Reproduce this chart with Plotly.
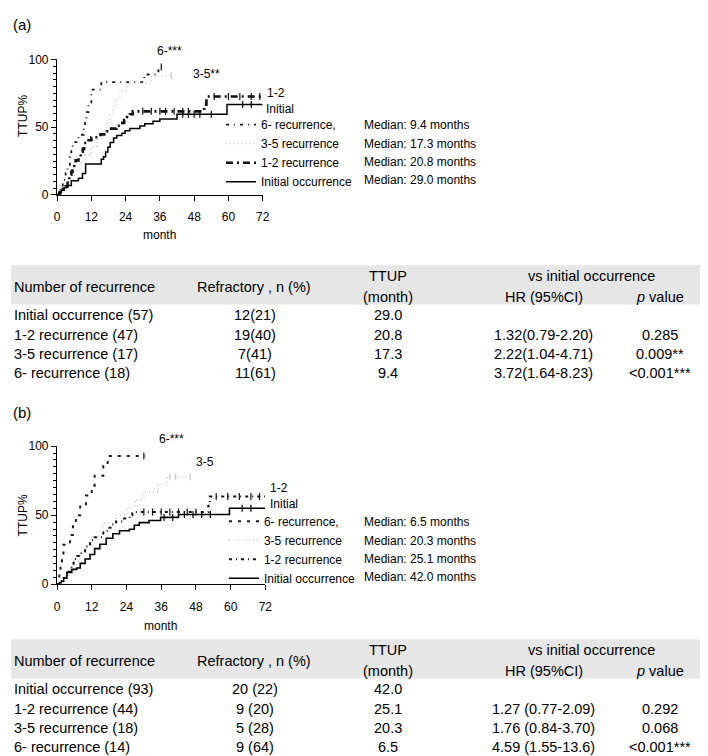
import numpy as np
import plotly.graph_objects as go

W, H = 708, 756

# -- datos de las curvas (a) ------------------------------------------------------------------------------------
a_init_t = [0, 0.6, 1.5, 2.5, 3.5, 5.0, 7.5, 8.9, 10.0, 15.5, 16.3, 17.0, 17.8, 18.6, 19.8, 20.9, 22.7, 23.8,
            25.5, 27.8, 29.0, 30.7, 33.6, 36.0, 42.0, 59.5, 72]
a_init_y = [0, 1.8, 3.5, 5.3, 7.0, 10.5, 12.3, 15.8, 22.8, 26.3, 28.1, 31.6, 35.1, 38.6, 42.1, 43.9, 45.6, 47.4,
            49.1, 49.1, 50.9, 52.6, 54.4, 56.1, 59.6, 66.7, 66.7]
a_12_t = [0, 1.0, 2.0, 3.0, 3.7, 4.3, 5.0, 5.4, 6.0, 6.5, 7.5, 8.3, 9.0, 9.5, 10.6, 12.0, 15.2, 16.5, 17.5, 20.8,
          22.0, 23.5, 24.5, 25.5, 26.5, 51.5, 52.3, 72]
a_12_y = [0, 2.1, 4.3, 6.4, 10.6, 14.9, 17.0, 21.3, 23.4, 25.5, 27.7, 31.9, 34.0, 38.3, 40.4, 42.6, 44.7, 46.8,
          48.9, 51.1, 53.2, 55.3, 57.4, 59.6, 61.7, 66.6, 72.6, 72.6]
a_35_t = [0, 2, 4, 6, 8, 10, 12, 14, 16, 17.3, 18.5, 19.5, 20.5, 22, 24, 33, 40]
a_35_y = [0, 5.9, 11.8, 17.6, 23.5, 29.4, 35.3, 41.2, 47.1, 52.9, 58.8, 64.7, 70.6, 76.5, 82.4, 88.2, 88.2]
a_6_t = [0, 1.2, 2.0, 3.0, 3.7, 4.5, 5.0, 5.5, 7.5, 9.4, 9.8, 10.3, 11.0, 12.0, 15.5, 30.5, 35.5, 37.0]
a_6_y = [0, 5.6, 11.1, 16.7, 22.2, 27.8, 33.3, 38.9, 44.4, 50.0, 55.6, 61.1, 66.7, 77.8, 83.3, 88.9, 94.4, 94.4]

a_cens_init = [44, 46, 48, 50, 54, 65, 68]
a_cens_12 = [30, 33, 36, 38, 41, 44, 46, 55, 60, 64, 68, 71]
a_cens_6 = [36.5]
a_cens_35 = [40]

# -- datos de las curvas (b) ------------------------------------------------------------------------------------
b_init_t = [0, 0.8, 1.5, 2.3, 3.4, 5.1, 6.8, 8.0, 9.7, 11.4, 13.0, 14.8, 17.0, 19.3, 21.6, 25.0, 26.7, 28.4,
            31.8, 35.8, 42.0, 59.6, 72]
b_init_y = [0, 1.1, 2.2, 4.3, 8.6, 10.8, 11.8, 15.1, 18.3, 21.5, 25.8, 29.0, 33.3, 36.6, 38.7, 39.8, 42.7, 44.6,
            46.2, 48.4, 50.5, 55.0, 55.0]
b_12_t = [0, 1.0, 2.0, 3.0, 4.0, 5.0, 5.7, 7.0, 8.0, 9.7, 11.4, 13.0, 16.0, 17.6, 19.0, 20.4, 22.7, 25.1, 26.0,
          52.3, 52.8, 72]
b_12_y = [0, 2.3, 4.5, 6.8, 9.1, 13.6, 18.2, 20.5, 22.7, 27.3, 31.8, 34.1, 38.6, 40.9, 43.2, 45.5, 47.7, 50.0,
          52.3, 56.8, 63.6, 63.6]
b_35_t = [0, 2, 4, 6, 8, 10, 12, 14, 16, 20.3, 24, 27, 30, 35, 38, 46]
b_35_y = [0, 5.6, 11.1, 16.7, 22.2, 27.8, 33.3, 38.9, 44.4, 50.0, 55.6, 61.1, 66.7, 72.2, 77.8, 77.8]
b_6_t = [0, 0.8, 1.2, 1.7, 2.2, 4.5, 5.5, 6.5, 8.0, 10.0, 12.0, 13.0, 16.0, 17.5, 30.5]
b_6_y = [0, 7.1, 14.3, 21.4, 28.6, 35.7, 42.9, 50.0, 57.1, 64.3, 71.4, 78.6, 85.7, 92.9, 92.9]

b_cens_init = [37, 40, 44, 47, 50, 53, 64, 67]
b_cens_12 = [30, 33, 36, 39, 42, 45, 48, 55, 59, 63, 67, 70]
b_cens_35 = [39, 41, 46]
b_cens_6 = [30]

# -- tablas ------------------------------------------------------------------------------------------------------
tab_header = ['Number of recurrence', 'Refractory , n (%)', 'TTUP', '(month)', 'vs initial occurrence',
              'HR (95%CI)', '<i>p</i> value']
a_groups = ['Initial occurrence (57)', '1-2 recurrence (47)', '3-5 recurrence (17)', '6- recurrence (18)']
a_refr = ['12(21)', '19(40)', '7(41)', '11(61)']
a_ttup = ['29.0', '20.8', '17.3', '9.4']
a_hr = ['', '1.32(0.79-2.20)', '2.22(1.04-4.71)', '3.72(1.64-8.23)']
a_p = ['', '0.285', '0.009**', '<0.001***']

b_groups = ['Initial occurrence (93)', '1-2 recurrence (44)', '3-5 recurrence (18)', '6- recurrence (14)']
b_refr = ['20 (22)', '9 (20)', '5 (28)', '9 (64)']
b_ttup = ['42.0', '25.1', '20.3', '6.5']
b_hr = ['', '1.27 (0.77-2.09)', '1.76 (0.84-3.70)', '4.59 (1.55-13.6)']
b_p = ['', '0.292', '0.068', '<0.001***']

leg_names = ['6- recurrence,', '3-5 recurrence', '1-2 recurrence', 'Initial occurrence']
a_medians = ['Median: 9.4 months', 'Median: 17.3 months', 'Median: 20.8 months', 'Median: 29.0 months']
b_medians = ['Median: 6.5 months', 'Median: 20.3 months', 'Median: 25.1 months', 'Median: 42.0 months']
a_labels = ['6-***', '3-5**', '1-2', 'Initial']
b_labels = ['6-***', '3-5', '1-2', 'Initial']

FONT = 'Liberation Sans, Arial, sans-serif'


def px_x(p):
    return p / W


def px_y(p):
    return 1 - p / H


def step_at(t, y, c):
    idx = np.searchsorted(np.array(t), np.array(c), side='right') - 1
    return list(np.array(y)[idx])


fig = go.Figure()

estilos_a = [dict(color='#1a1a1a', width=1.8, dash='3px,5px,1px,5px'),
             dict(color='#c8c8c8', width=1.6, dash='1px,3px'),
             dict(color='#111111', width=2.6, dash='7px,4px,2px,4px'),
             dict(color='#000000', width=1.5)]
estilos_b = [dict(color='#1a1a1a', width=2, dash='3px,6px'),
             dict(color='#c8c8c8', width=1.6, dash='1px,3px'),
             dict(color='#111111', width=2, dash='3px,4px,1px,4px'),
             dict(color='#000000', width=1.6)]

curvas_a = [(a_6_t, a_6_y, a_cens_6), (a_35_t, a_35_y, a_cens_35), (a_12_t, a_12_y, a_cens_12),
            (a_init_t, a_init_y, a_cens_init)]
curvas_b = [(b_6_t, b_6_y, b_cens_6), (b_35_t, b_35_y, b_cens_35), (b_12_t, b_12_y, b_cens_12),
            (b_init_t, b_init_y, b_cens_init)]

for panel, curvas, estilos, leg in [('', curvas_a, estilos_a, 'legend'), ('2', curvas_b, estilos_b, 'legend2')]:
    for nombre, (t, y, c), est in zip(leg_names, curvas, estilos):
        fig.add_trace(go.Scatter(x=t, y=y, mode='lines', line=dict(shape='hv', **est), name=nombre,
                                 legend=leg, xaxis='x' + panel, yaxis='y' + panel))
        fig.add_trace(go.Scatter(x=c, y=step_at(t, y, c), mode='markers', showlegend=False,
                                 marker=dict(symbol='line-ns', size=5, line=dict(width=1.2, color=est['color'])),
                                 xaxis='x' + panel, yaxis='y' + panel))

ejes = dict(showgrid=False, zeroline=False, showline=True, linecolor='black', linewidth=1.3,
            ticks='outside', tickcolor='black', ticklen=5, tickwidth=1.3,
            tickfont=dict(family=FONT, size=12, color='black'), fixedrange=True)
ejes_x = dict(ejes, range=[0, 72], tickvals=[0, 12, 24, 36, 48, 60, 72], ticklabelstandoff=6)
ejes_y = dict(ejes, range=[0, 100], tickvals=[0, 50, 100],
              minor=dict(dtick=5, ticks='outside', ticklen=3, tickcolor='black', tickwidth=1))

fig.update_layout(
    xaxis=dict(ejes_x, domain=[px_x(46.7), px_x(255.3)], anchor='y'),
    yaxis=dict(ejes_y, domain=[px_y(183.3), px_y(45.3)], anchor='x'),
    xaxis2=dict(ejes_x, domain=[px_x(46.7), px_x(258)], anchor='y2'),
    yaxis2=dict(ejes_y, domain=[px_y(580), px_y(439.3)], anchor='x2'),
    width=W, height=H, margin=dict(l=0, r=0, t=0, b=0),
    paper_bgcolor='white', plot_bgcolor='white',
    font=dict(family=FONT, size=12, color='black'),
    legend=dict(x=px_x(213), xanchor='left', y=px_y(97), yanchor='top', bgcolor='rgba(0,0,0,0)',
                font=dict(size=12), itemwidth=30, tracegroupgap=0),
    legend2=dict(x=px_x(216), xanchor='left', y=px_y(501), yanchor='top', bgcolor='rgba(0,0,0,0)',
                 font=dict(size=12), itemwidth=30, tracegroupgap=0),
)

anots = []


def texto(x, y, s, size=12, anchor='center', **kw):
    anots.append(dict(x=px_x(x), y=px_y(y), xref='paper', yref='paper', text=s, showarrow=False,
                      xanchor=anchor, yanchor='middle', font=dict(family=FONT, size=size, color='black'), **kw))


# etiquetas de panel y ejes
texto(0, 10, '(a)', size=15, anchor='left')
texto(0, 405, '(b)', size=15, anchor='left')
texto(12, 103, 'TTUP%', textangle=-90)
texto(12, 510, 'TTUP%', textangle=-90)
texto(151, 224, 'month')
texto(152, 623, 'month')

# etiquetas de las curvas
for pos, labs in [([(147, 37), (184, 60), (259, 79.5), (258, 95.5)], a_labels),
                  ([(149, 432), (187, 455), (262, 482), (262, 498.5)], b_labels)]:
    for (x, y), s in zip(pos, labs):
        texto(x, y, s, anchor='left', borderpad=0)

# medianas de la leyenda
for rows, meds in [([112, 131, 150, 168], a_medians), ([517, 536, 554.5, 573], b_medians)]:
    for r, m in zip(rows, meds):
        texto(356, r, m, anchor='left')

# tablas
shapes = []
for top, groups, refr, ttup, hr, pv in [(255, a_groups, a_refr, a_ttup, a_hr, a_p),
                                        (636, b_groups, b_refr, b_ttup, b_hr, b_p)]:
    shapes.append(dict(type='rect', xref='paper', yref='paper', x0=0, x1=1, y0=px_y(top + 40), y1=px_y(top),
                       fillcolor='#e6e6e6', line=dict(width=0), layer='below'))
    l1, l2, mid = top + 11, top + 32, top + 22
    texto(1, mid, tab_header[0], size=14.5, anchor='left')
    texto(246, mid, tab_header[1], size=14.5)
    texto(382, l1, tab_header[2], size=14.5)
    texto(382, l2, tab_header[3], size=14.5)
    texto(589, l1, tab_header[4], size=14.5)
    texto(541, l2, tab_header[5], size=14.5)
    texto(658, l2, tab_header[6], size=14.5)
    for i in range(4):
        yy = top + 51 + 19.6 * i
        texto(1, yy, groups[i], size=14.5, anchor='left')
        texto(248, yy, refr[i], size=14.5)
        texto(382, yy, ttup[i], size=14.5)
        texto(540, yy, hr[i], size=14.5)
        texto(658, yy, pv[i], size=14.5)

fig.update_layout(annotations=anots, shapes=shapes)

fig.write_html("out.html")
